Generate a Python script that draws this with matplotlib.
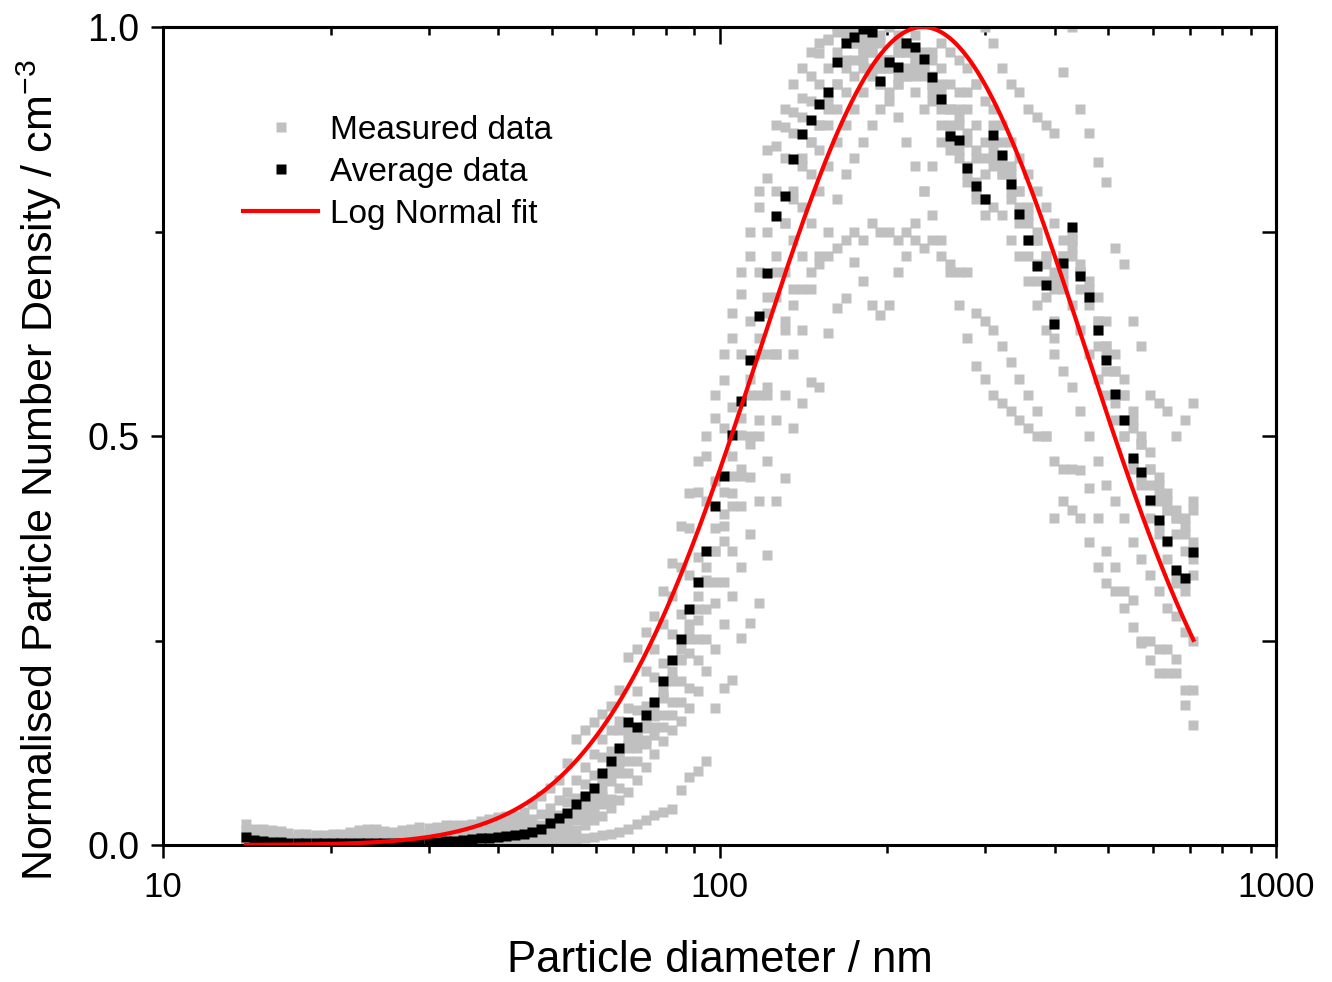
import numpy as np
import matplotlib
matplotlib.use("Agg")
import matplotlib.pyplot as plt
from matplotlib.ticker import FixedLocator, NullFormatter, FuncFormatter

plt.rcParams['font.family'] = ['Liberation Sans', 'DejaVu Sans']
plt.rcParams['mathtext.fontset'] = 'custom'
plt.rcParams['mathtext.rm'] = 'Liberation Sans'
plt.rcParams['mathtext.it'] = 'Liberation Sans:italic'
plt.rcParams['mathtext.default'] = 'regular'

# ---------------- data ----------------
diameter_nm = [
    14.1, 14.6, 15.1, 15.7, 16.3, 16.8, 17.5, 18.1, 18.8, 19.5,
    20.2, 20.9, 21.7, 22.5, 23.3, 24.1, 25.0, 25.9, 26.9, 27.9,
    28.9, 30.0, 31.1, 32.2, 33.4, 34.6, 35.9, 37.2, 38.5, 40.0,
    41.4, 42.9, 44.5, 46.1, 47.8, 49.6, 51.4, 53.3, 55.2, 57.3,
    59.4, 61.5, 63.8, 66.1, 68.5, 71.0, 73.7, 76.4, 79.1, 82.0,
    85.1, 88.2, 91.4, 94.7, 98.2, 101.8, 105.5, 109.4, 113.4, 117.6,
    121.9, 126.3, 131.0, 135.8, 140.7, 145.9, 151.2, 156.8, 162.5, 168.5,
    174.7, 181.1, 187.7, 194.6, 201.7, 209.1, 216.7, 224.7, 232.9, 241.4,
    250.3, 259.5, 269.0, 278.8, 289.0, 299.6, 310.6, 322.0, 333.8, 346.0,
    358.7, 371.8, 385.4, 399.5, 414.2, 429.4, 445.1, 461.4, 478.3, 495.8,
    514.0, 532.8, 552.3, 572.5, 593.5, 615.3, 637.8, 661.2, 685.4, 710.5]

average_data = [
    0.010, 0.006, 0.005, 0.004, 0.004, 0.003, 0.003, 0.003, 0.002, 0.002,
    0.002, 0.002, 0.002, 0.002, 0.002, 0.002, 0.002, 0.002, 0.003, 0.003,
    0.003, 0.004, 0.004, 0.005, 0.005, 0.006, 0.007, 0.008, 0.009, 0.010,
    0.011, 0.012, 0.014, 0.016, 0.020, 0.027, 0.033, 0.039, 0.050, 0.060,
    0.070, 0.088, 0.103, 0.119, 0.150, 0.144, 0.159, 0.175, 0.200, 0.226,
    0.252, 0.288, 0.321, 0.360, 0.414, 0.451, 0.501, 0.543, 0.593, 0.647,
    0.699, 0.769, 0.793, 0.839, 0.869, 0.886, 0.906, 0.920, 0.957, 0.980,
    0.988, 0.998, 0.994, 0.934, 0.957, 0.951, 0.980, 0.975, 0.961, 0.939,
    0.912, 0.867, 0.862, 0.828, 0.806, 0.790, 0.868, 0.844, 0.808, 0.772,
    0.740, 0.708, 0.684, 0.637, 0.711, 0.756, 0.696, 0.670, 0.630, 0.593,
    0.551, 0.520, 0.473, 0.456, 0.422, 0.397, 0.372, 0.336, 0.326, 0.358]

scan_1 = [
    0.026, 0.020, 0.019, 0.018, 0.017, 0.015, 0.014, 0.013, 0.012, 0.012, 0.013, 0.014, 0.016, 0.018, 0.020,
    0.019, 0.017, 0.016, 0.018, 0.020, 0.022, 0.021, 0.022, 0.024, 0.025, 0.024, 0.026, 0.029, 0.032, 0.034,
    0.035, 0.036, 0.040, 0.050, 0.060, 0.070, 0.080, 0.100, 0.130, 0.140, 0.150, 0.160, 0.170, 0.190,
    0.230, 0.240, 0.260, 0.280, 0.310, 0.345, 0.390, 0.430, 0.470, 0.500, 0.550, 0.600, 0.650, 0.700,
    0.75, 0.80, 0.85, 0.88, 0.90, 0.93, 0.95, 0.97, 0.98, 0.985, 1.0, 0.99, 0.98, 0.96, 0.95, 0.93,
    0.92, 0.89, 0.86, 0.83, 0.80, 0.77, 0.74,
    0.70, 0.66, 0.62, 0.585, 0.57, 0.55, 0.54, 0.53, 0.52, 0.51, 0.50, 0.50, 0.40, 0.42, 0.41,
    0.40, 0.37, 0.34, 0.32, 0.31, 0.29, 0.267, 0.25, 0.226, 0.21, 0.21, 0.21, 0.19, 0.19]
scan_2 = [
    0.018, 0.013, 0.012, 0.011, 0.010, 0.010, 0.009, 0.008, 0.008, 0.007, 0.008, 0.008, 0.009, 0.010, 0.011,
    0.012, 0.011, 0.010, 0.011, 0.012, 0.013, 0.014, 0.015, 0.016, 0.017, 0.018, 0.020, 0.021, 0.023, 0.025,
    0.026, 0.027, 0.029, 0.032, 0.038, 0.045, 0.055, 0.065, 0.079, 0.095, 0.111, 0.130, 0.140, 0.152,
    0.167, 0.188, 0.213, 0.239, 0.270, 0.305, 0.340, 0.387, 0.432, 0.476, 0.522, 0.568, 0.620, 0.673,
    0.72, 0.78, 0.816, 0.854, 0.878, 0.896, 0.913, 0.94, 0.968, 0.984, 0.994, 1.0, 0.99, 0.97, 0.98,
    0.95, 0.96, 0.93, 0.94, 0.92, 0.90, 0.91, 0.88,
    0.86, 0.84, 0.82, 0.80, 0.79, 0.78, 0.77, 0.74, 0.72, 0.69, 0.66, 0.63, 0.60, 0.58, 0.56,
    0.53, 0.50, 0.47, 0.44, 0.42, 0.40, 0.37, 0.35, 0.33, 0.31, 0.29, 0.28, 0.26, 0.25]
scan_3 = [
    0.012, 0.008, 0.007, 0.006, 0.006, 0.005, 0.005, 0.004, 0.004, 0.004, 0.004, 0.004, 0.005, 0.005, 0.006,
    0.006, 0.006, 0.006, 0.007, 0.007, 0.008, 0.008, 0.009, 0.010, 0.011, 0.012, 0.013, 0.015, 0.016, 0.018,
    0.018, 0.019, 0.020, 0.022, 0.025, 0.035, 0.037, 0.052, 0.058, 0.074, 0.085, 0.108, 0.115, 0.140,
    0.138, 0.165, 0.170, 0.205, 0.222, 0.258, 0.282, 0.330, 0.352, 0.420, 0.445, 0.510, 0.535, 0.600,
    0.64, 0.70, 0.75, 0.80, 0.84, 0.87, 0.89, 0.91, 0.93, 0.95, 0.97, 0.99, 1.0, 0.98, 0.97,
    0.99, 0.96, 0.97, 0.95, 0.94, 0.96, 0.93, 0.92,
    0.90, 0.88, 0.86, 0.85, 0.84, 0.88, 0.86, 0.83, 0.80, 0.77, 0.74, 0.71, 0.68, 0.72, 0.74,
    0.70, 0.68, 0.64, 0.61, 0.58, 0.55, 0.51, 0.49, 0.46, 0.43, 0.41, 0.38, 0.36, 0.37]
scan_4 = [
    0.004, 0.002, 0.001, 0.001, 0.001, 0.000, 0.000, 0.000, 0.000, 0.000, 0.000, 0.000, 0.000, 0.000, 0.000,
    0.000, 0.000, 0.000, 0.000, 0.000, 0.000, 0.000, 0.000, 0.000, 0.000, 0.001, 0.001, 0.001, 0.002, 0.002,
    0.002, 0.002, 0.003, 0.003, 0.004, 0.004, 0.005, 0.006, 0.007, 0.008, 0.010, 0.012, 0.014, 0.016,
    0.020, 0.026, 0.030, 0.037, 0.040, 0.044, 0.067, 0.083, 0.090, 0.103, 0.167, 0.192, 0.202, 0.253,
    0.271, 0.296, 0.355, 0.420, 0.449, 0.510, 0.540, 0.566, 0.560, 0.626, 0.656, 0.669, 0.713, 0.690, 0.660,
    0.648, 0.660, 0.700, 0.720, 0.760, 0.800, 0.830, 0.860,
    0.88, 0.90, 0.92, 0.93, 1.0, 0.98, 0.95, 0.93, 0.92, 0.90, 0.89, 0.88, 0.87, 0.945, 1.0,
    0.90, 0.87, 0.835, 0.81, 0.73, 0.71, 0.64, 0.61, 0.55, 0.54, 0.53, 0.50, 0.52, 0.54]
scan_5 = [
    0.008, 0.004, 0.003, 0.003, 0.002, 0.002, 0.002, 0.001, 0.001, 0.001, 0.001, 0.001, 0.001, 0.001, 0.001,
    0.002, 0.002, 0.002, 0.002, 0.002, 0.003, 0.003, 0.003, 0.004, 0.004, 0.005, 0.005, 0.006, 0.007, 0.008,
    0.010, 0.011, 0.012, 0.015, 0.018, 0.024, 0.030, 0.035, 0.045, 0.054, 0.063, 0.079, 0.093, 0.107,
    0.122, 0.130, 0.143, 0.158, 0.180, 0.203, 0.227, 0.259, 0.289, 0.324, 0.360, 0.390, 0.430, 0.460,
    0.49, 0.52, 0.56, 0.60, 0.63, 0.66, 0.68, 0.70, 0.71, 0.72, 0.73, 0.74, 0.75, 0.74, 0.76,
    0.75, 0.75, 0.74, 0.75, 0.74, 0.73, 0.74, 0.72,
    0.71, 0.70, 0.70, 0.65, 0.64, 0.63, 0.61, 0.59, 0.57, 0.55, 0.53, 0.50, 0.47, 0.46, 0.46,
    0.458, 0.436, 0.40, 0.36, 0.34, 0.31, 0.30, 0.247, 0.25, 0.24, 0.24, 0.227, 0.171, 0.147]
scan_6 = [
    0.006, 0.003, 0.002, 0.002, 0.002, 0.001, 0.001, 0.001, 0.001, 0.001, 0.001, 0.001, 0.001, 0.001, 0.001,
    0.001, 0.001, 0.001, 0.001, 0.002, 0.002, 0.002, 0.002, 0.003, 0.003, 0.003, 0.004, 0.004, 0.005, 0.006,
    0.010, 0.011, 0.012, 0.014, 0.016, 0.023, 0.027, 0.033, 0.039, 0.050, 0.060, 0.070, 0.088, 0.098,
    0.119, 0.135, 0.144, 0.159, 0.182, 0.200, 0.226, 0.252, 0.275, 0.321, 0.360, 0.405, 0.451, 0.501,
    0.55, 0.60, 0.65, 0.70, 0.76, 0.79, 0.83, 0.86, 0.88, 0.90, 0.93, 0.95, 0.96, 0.97, 0.99,
    0.96, 0.95, 0.97, 0.98, 0.96, 0.95, 0.93, 0.91,
    0.87, 0.86, 0.83, 0.81, 0.79, 0.86, 0.84, 0.81, 0.77, 0.74, 0.71, 0.69, 0.64, 0.70, 0.75,
    0.70, 0.67, 0.63, 0.60, 0.55, 0.52, 0.47, 0.45, 0.42, 0.39, 0.37, 0.33, 0.32, 0.35]
scan_7 = [
    0.005, 0.002, 0.002, 0.001, 0.001, 0.001, 0.001, 0.001, 0.000, 0.000, 0.000, 0.000, 0.000, 0.000, 0.000,
    0.000, 0.001, 0.001, 0.001, 0.001, 0.001, 0.001, 0.001, 0.002, 0.002, 0.002, 0.003, 0.003, 0.003, 0.004,
    0.009, 0.010, 0.011, 0.012, 0.014, 0.016, 0.020, 0.027, 0.033, 0.039, 0.050, 0.060, 0.078, 0.088,
    0.103, 0.119, 0.128, 0.144, 0.159, 0.175, 0.200, 0.235, 0.252, 0.288, 0.321, 0.372, 0.414, 0.451,
    0.50, 0.55, 0.60, 0.67, 0.70, 0.74, 0.78, 0.82, 0.85, 0.88, 0.90, 0.92, 0.94, 0.95, 0.97,
    0.98, 1.0, 0.99, 0.98, 0.97, 0.95, 0.94, 0.93,
    0.90, 0.89, 0.87, 0.84, 0.82, 0.85, 0.83, 0.82, 0.80, 0.78, 0.75, 0.72, 0.69, 0.72, 0.74,
    0.71, 0.69, 0.67, 0.64, 0.60, 0.57, 0.53, 0.50, 0.48, 0.45, 0.43, 0.41, 0.40, 0.42]
scan_8 = [
    0.004, 0.002, 0.001, 0.001, 0.001, 0.001, 0.000, 0.000, 0.000, 0.000, 0.000, 0.000, 0.000, 0.000, 0.000,
    0.000, 0.000, 0.000, 0.001, 0.001, 0.001, 0.001, 0.001, 0.001, 0.002, 0.002, 0.002, 0.002, 0.003, 0.003,
    0.008, 0.009, 0.010, 0.011, 0.012, 0.014, 0.016, 0.020, 0.031, 0.033, 0.039, 0.050, 0.056, 0.070,
    0.088, 0.103, 0.124, 0.135, 0.144, 0.159, 0.175, 0.192, 0.226, 0.252, 0.296, 0.321, 0.360, 0.414,
    0.45, 0.50, 0.55, 0.60, 0.64, 0.68, 0.72, 0.76, 0.80, 0.83, 0.86, 0.88, 0.90, 0.92, 0.94,
    0.95, 0.96, 0.98, 0.97, 0.99, 0.97, 0.96, 0.95,
    0.93, 0.92, 0.90, 0.88, 0.86, 0.84, 0.82, 0.80, 0.78, 0.76, 0.74, 0.72, 0.70, 0.68, 0.66,
    0.63, 0.60, 0.57, 0.55, 0.52, 0.50, 0.47, 0.45, 0.44, 0.42, 0.41, 0.40, 0.39, 0.41]
scan_9 = [
    0.003, 0.001, 0.001, 0.001, 0.000, 0.000, 0.000, 0.000, 0.000, 0.000, 0.000, 0.000, 0.000, 0.000, 0.000,
    0.000, 0.000, 0.000, 0.000, 0.000, 0.000, 0.000, 0.000, 0.001, 0.001, 0.001, 0.001, 0.002, 0.002, 0.002,
    0.006, 0.007, 0.008, 0.009, 0.010, 0.011, 0.013, 0.015, 0.018, 0.024, 0.030, 0.036, 0.045, 0.055,
    0.065, 0.079, 0.095, 0.111, 0.127, 0.140, 0.152, 0.167, 0.188, 0.213, 0.239, 0.270, 0.305, 0.340,
    0.38, 0.42, 0.47, 0.52, 0.55, 0.60, 0.63, 0.68, 0.72, 0.75, 0.79, 0.82, 0.84, 0.86, 0.88,
    0.90, 0.91, 0.93, 0.94, 0.95, 0.96, 0.97, 0.98,
    0.97, 0.96, 0.95, 0.93, 0.91, 0.90, 0.88, 0.86, 0.84, 0.82, 0.80, 0.78, 0.76, 0.74, 0.72,
    0.70, 0.67, 0.64, 0.61, 0.58, 0.55, 0.52, 0.49, 0.46, 0.44, 0.42, 0.40, 0.38, 0.36]
scan_10 = [
    0.007, 0.004, 0.003, 0.003, 0.003, 0.002, 0.002, 0.002, 0.002, 0.002, 0.002, 0.002, 0.002, 0.002, 0.002,
    0.002, 0.002, 0.002, 0.003, 0.003, 0.003, 0.004, 0.004, 0.005, 0.005, 0.006, 0.007, 0.008, 0.009, 0.010,
    0.011, 0.012, 0.013, 0.015, 0.018, 0.024, 0.030, 0.036, 0.045, 0.055, 0.065, 0.079, 0.096, 0.111,
    0.127, 0.140, 0.152, 0.167, 0.188, 0.213, 0.239, 0.270, 0.305, 0.340, 0.387, 0.432, 0.476, 0.522,
    0.57, 0.62, 0.67, 0.72, 0.76, 0.80, 0.84, 0.86, 0.88, 0.91, 0.93, 0.96, 0.98, 0.99, 1.0,
    0.93, 0.95, 0.94, 0.97, 0.96, 0.94, 0.92, 0.90,
    0.85, 0.85, 0.81, 0.79, 0.77, 0.83, 0.82, 0.79, 0.76, 0.72, 0.69, 0.67, 0.62, 0.69, 0.73,
    0.68, 0.66, 0.61, 0.58, 0.54, 0.50, 0.46, 0.44, 0.40, 0.38, 0.35, 0.32, 0.31, 0.33]

measured_scans = [scan_1, scan_2, scan_3, scan_4, scan_5,
                  scan_6, scan_7, scan_8, scan_9, scan_10]

# Log-normal fit parameters
fit_dg_nm = 232.0
fit_sigma_g = 1.96
fit_amplitude = 1.0

x_major = [10, 100, 1000]
x_minor = [20, 30, 40, 50, 60, 70, 80, 90, 200, 300, 400, 500, 600, 700, 800, 900]
y_major = [0.0, 0.5, 1.0]
y_minor = [0.25, 0.75]

# ---------------- figure ----------------
W, H = 1332, 982
fig = plt.figure(figsize=(W / 100, H / 100), dpi=100)
L, R, T, B = 163, 1276, 27, 845
ax = fig.add_axes([L / W, 1 - B / H, (R - L) / W, (B - T) / H])

gray = '#C0C0C0'
for k, scan in enumerate(measured_scans):
    n = min(len(diameter_nm), len(scan))
    ax.plot(diameter_nm[:n], scan[:n], ls='none', marker='s', ms=6.6,
            mfc=gray, mec='none', zorder=2,
            label='Measured data' if k == 0 else '_nolegend_')

ax.plot(diameter_nm, average_data, ls='none', marker='s', ms=7.0,
        mfc='black', mec='none', zorder=3, label='Average data')

d_fit = np.geomspace(diameter_nm[0], diameter_nm[-1], 400)
y_fit = fit_amplitude * np.exp(-np.log(d_fit / fit_dg_nm) ** 2 / (2 * np.log(fit_sigma_g) ** 2))
ax.plot(d_fit, y_fit, color='#FF0000', lw=3.0, zorder=4, label='Log Normal fit')

ax.set_xscale('log')
ax.set_xlim(10, 1000)
ax.set_ylim(0, 1.0)

ax.xaxis.set_major_locator(FixedLocator(x_major))
ax.xaxis.set_minor_locator(FixedLocator(x_minor))
ax.xaxis.set_major_formatter(FuncFormatter(lambda v, p: f'{v:g}'))
ax.xaxis.set_minor_formatter(NullFormatter())
ax.yaxis.set_major_locator(FixedLocator(y_major))
ax.yaxis.set_minor_locator(FixedLocator(y_minor))
ax.yaxis.set_major_formatter(FuncFormatter(lambda v, p: f'{v:.1f}'))

for s in ax.spines.values():
    s.set_linewidth(2.2)

ax.tick_params(which='both', direction='out', top=False, right=False, width=1.8)
ax.tick_params(which='major', length=9)
ax.tick_params(which='minor', length=5.5)
ax.tick_params(axis='x', which='major', pad=10, labelsize=25)
ax.tick_params(axis='y', which='major', pad=8, labelsize=27)

# mirrored inward ticks on top and right
secx = ax.secondary_xaxis('top')
secx.set_xscale('log')
secx.xaxis.set_major_locator(FixedLocator(x_major))
secx.xaxis.set_minor_locator(FixedLocator(x_minor))
secx.tick_params(which='both', direction='in', width=1.8, labeltop=False)
secx.tick_params(which='major', length=12)
secx.tick_params(which='minor', length=6)
secx.spines['top'].set_linewidth(2.2)

secy = ax.secondary_yaxis('right')
secy.yaxis.set_major_locator(FixedLocator(y_major))
secy.yaxis.set_minor_locator(FixedLocator(y_minor))
secy.tick_params(which='both', direction='in', width=1.8, labelright=False)
secy.tick_params(which='major', length=10)
secy.tick_params(which='minor', length=10)
secy.spines['right'].set_linewidth(2.2)

ax.set_xlabel('Particle diameter / nm', fontsize=31.5)
ax.xaxis.set_label_coords(0.5, -0.116)
ax.set_ylabel('Normalised Particle Number Density / cm$^{-3}$', fontsize=31)
ax.yaxis.set_label_coords(-0.089, 0.458)

leg = ax.legend(loc='upper left', bbox_to_anchor=(243 / W, 1 - 115 / H),
                bbox_transform=fig.transFigure, frameon=False, fontsize=24,
                borderpad=0, borderaxespad=0, handlelength=2.25,
                handletextpad=0.36, labelspacing=0.33, numpoints=1)

fig.savefig('out.png', dpi=100)
